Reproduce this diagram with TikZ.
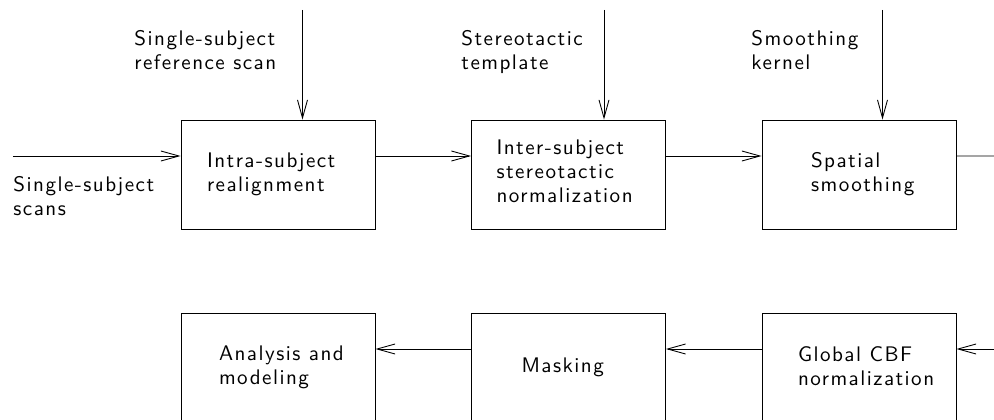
\documentclass[tikz,border=0pt]{standalone}
\usepackage{fontspec}
\usepackage{tikz}
\usetikzlibrary{arrows.meta,positioning}
\usetikzlibrary{calc}

\newfontfamily\lblfont{lmsans10-regular.otf}[LetterSpace=7]
\newcommand{\lbl}{\lblfont\fontsize{12}{13.6}\selectfont}

\begin{document}
\begin{tikzpicture}[>={Straight Barb[length=3.6mm,width=2mm]},->,line width=0.5pt,node distance=5.81cm,
        box/.style={rectangle,draw=black,minimum width=3.88cm,minimum height=2.18cm,inner sep=0pt},
        txt/.style={anchor=base west,align=left,inner sep=0pt,font=\lbl}]

        \useasboundingbox (0,0) rectangle (19.88,-8.4);
        \clip (0,0) rectangle (19.88,-8.4);

        \node [box]   (b1)  at (5.56,-3.49) {};
        \node [box]   (b2)  [right of=b1] {};
        \node [box]   (b3)  [right of=b2] {};
        \node [box]   (c1)  [below of=b1,node distance=3.86cm] {};
        \node [box]   (c2)  [right of=c1] {};
        \node [box]   (c3)  [right of=c2] {};

        % base of a text node = baseline of its last line
        \node [txt]   (tb1) at ($(b1.north west)+(0.52,-1.44)$) {Intra-subject\\realignment};
        \node [txt]   (tb2) at ($(b2.north west)+(0.50,-1.66)$) {Inter-subject\\stereotactic\\normalization};
        \node [txt]   (tb3) at ($(b3.north west)+(0.98,-1.44)$) {Spatial\\smoothing};
        \node [txt]   (tc1) at ($(c1.north west)+(0.76,-1.44)$) {Analysis and\\modeling};
        \node [txt]   (tc2) at ($(c2.north west)+(1.00,-1.20)$) {Masking};
        \node [txt]   (tc3) at ($(c3.north west)+(0.72,-1.45)$) {Global CBF\\normalization};

        \node [txt]   (ref)  at (2.68,-1.38) {Single-subject\\reference scan};
        \node [txt]   (tpl)  at (9.22,-1.38) {Stereotactic\\template};
        \node [txt]   (krn)  at (15.02,-1.38) {Smoothing\\kernel};
        \node [txt]   (scn)  at (0.26,-4.30) {Single-subject\\scans};

        \coordinate (in)   at (0.26,-3.12);
        \coordinate (out)  at (19.88,-3.12);
        \coordinate (back) at (19.88,-6.98);
        \coordinate (r1)   at (6.05,-0.2);
        \coordinate (r2)   at (12.08,-0.2);
        \coordinate (r3)   at (17.65,-0.2);

        \draw (in) -- (in -| b1.west);
        \draw ([yshift=.37cm]b1.east) -- ([yshift=.37cm]b2.west);
        \draw ([yshift=.37cm]b2.east) -- ([yshift=.37cm]b3.west);
        \draw[-] ([yshift=.37cm]b3.east) -- (out);
        \draw (back) -- (back -| c3.east);
        \draw ([yshift=.37cm]c3.west) -- ([yshift=.37cm]c2.east);
        \draw ([yshift=.37cm]c2.west) -- ([yshift=.37cm]c1.east);
        \draw (r1) -- (r1 |- b1.north);
        \draw (r2) -- (r2 |- b2.north);
        \draw (r3) -- (r3 |- b3.north);
      \end{tikzpicture}
\end{document}
